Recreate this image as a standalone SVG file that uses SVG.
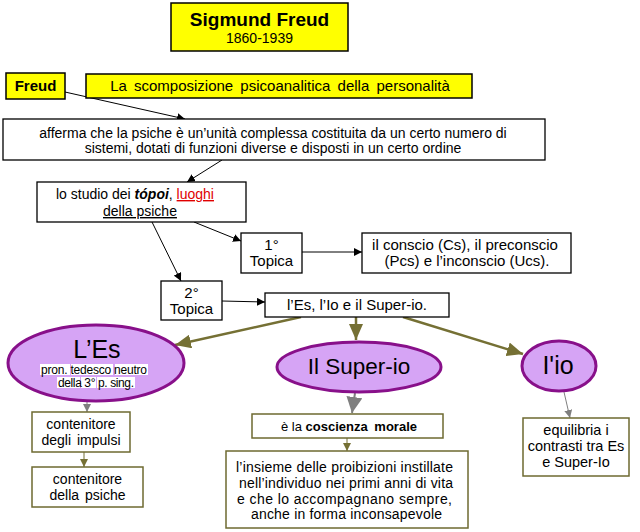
<svg xmlns="http://www.w3.org/2000/svg" width="640" height="532" viewBox="0 0 640 532">
<defs>
<style>
text{font-family:"Liberation Sans",Arial,sans-serif;fill:#000;}
.c{text-anchor:middle;}
.yb{fill:#FFFF00;stroke:#000;stroke-width:1.5;}
.wb{fill:#fff;stroke:#000;stroke-width:1.3;}
.ob{fill:#fff;stroke:#6E6A30;stroke-width:1.5;}
.el{fill:#D6A4F5;stroke:#88108A;stroke-width:3;}
.k{stroke:#000;stroke-width:1;fill:none;}
.o{stroke:#757034;stroke-width:2.5;fill:none;}
.os{stroke:#757034;stroke-width:1;fill:none;}
.g{stroke:#7F7F7F;stroke-width:1;fill:none;}
.gw{stroke:#7F7F7F;stroke-width:2;fill:none;}
.hl{fill:#fff;}
</style>
<marker id="ak" markerUnits="userSpaceOnUse" markerWidth="10" markerHeight="8" refX="8" refY="4" orient="auto"><path d="M0,0L8,4L0,8z" fill="#000"/></marker>
<marker id="ao" markerUnits="userSpaceOnUse" markerWidth="18" markerHeight="14" refX="16" refY="7" orient="auto"><path d="M0,0L16,7L0,14z" fill="#757034"/></marker>
<marker id="aos" markerUnits="userSpaceOnUse" markerWidth="10" markerHeight="8" refX="8" refY="4" orient="auto"><path d="M0,0L8,4L0,8z" fill="#757034"/></marker>
<marker id="ag" markerUnits="userSpaceOnUse" markerWidth="10" markerHeight="8" refX="8" refY="4" orient="auto"><path d="M0,0L8,4L0,8z" fill="#7F7F7F"/></marker>
<marker id="agl" markerUnits="userSpaceOnUse" markerWidth="18" markerHeight="16" refX="16" refY="8" orient="auto"><path d="M0,0L16,8L0,16z" fill="#7F7F7F"/></marker>
</defs>
<rect width="640" height="532" fill="#fff"/>

<g id="connectors">
<line class="k" x1="65" y1="92" x2="185" y2="119" marker-end="url(#ak)"/>
<line class="k" x1="222" y1="160" x2="187" y2="182" marker-end="url(#ak)"/>
<line class="k" x1="194" y1="222" x2="241" y2="241" marker-end="url(#ak)"/>
<line class="k" x1="152" y1="222" x2="181" y2="281" marker-end="url(#ak)"/>
<line class="k" x1="302" y1="252" x2="362" y2="252" marker-end="url(#ak)"/>
<line class="k" x1="222" y1="301" x2="265" y2="302" marker-end="url(#ak)"/>
<line class="o" x1="301" y1="317" x2="175" y2="345" marker-end="url(#ao)"/>
<line class="o" x1="356" y1="317" x2="356" y2="340" marker-end="url(#ao)"/>
<line class="o" x1="403" y1="317" x2="523" y2="354" marker-end="url(#ao)"/>
<line class="g" x1="87" y1="402" x2="87" y2="412" marker-end="url(#ag)"/>
<line class="os" x1="84" y1="452" x2="84" y2="467" marker-end="url(#aos)"/>
<line class="gw" x1="355" y1="393" x2="352" y2="413" marker-end="url(#agl)"/>
<line class="os" x1="347" y1="438" x2="347" y2="451" marker-end="url(#aos)"/>
<line class="g" x1="564" y1="392" x2="570" y2="418" marker-end="url(#ag)"/>
</g>

<g id="title">
<rect class="yb" x="171" y="3" width="177" height="48"/>
<text class="c" x="259.5" y="26" font-size="19" font-weight="bold">Sigmund Freud</text>
<text class="c" x="259.5" y="43" font-size="14">1860-1939</text>
</g>

<g id="freud">
<rect class="yb" x="6" y="73" width="59" height="26"/>
<text class="c" x="35.5" y="91" font-size="15" font-weight="bold">Freud</text>
</g>

<g id="scomposizione">
<rect class="yb" x="86" y="74" width="386" height="24"/>
<text class="c" x="280" y="91" font-size="15" word-spacing="3">La scomposizione psicoanalitica della personalità</text>
</g>

<g id="afferma">
<rect class="wb" x="3" y="119" width="542" height="41"/>
<text class="c" x="273" y="138" font-size="14">afferma che la psiche è un’unità complessa costituita da un certo numero di</text>
<text class="c" x="273" y="153" font-size="14">sistemi, dotati di funzioni diverse e disposti in un certo ordine</text>
</g>

<g id="topoi">
<rect class="wb" x="37" y="182" width="209" height="40"/>
<text x="56" y="199" font-size="14">lo studio dei <tspan font-weight="bold" font-style="italic">tópoi</tspan>, <tspan fill="#E00000" text-decoration="underline">luoghi </tspan></text>
<text x="103" y="216" font-size="14" fill="#E00000" text-decoration="underline">della psiche</text>
</g>

<g id="topica1">
<rect class="wb" x="241" y="233" width="61" height="40"/>
<text class="c" x="271.5" y="250" font-size="15">1°</text>
<text class="c" x="271.5" y="266" font-size="15">Topica</text>
</g>

<g id="conscio">
<rect class="wb" x="362" y="233" width="209" height="40"/>
<text class="c" x="465" y="250" font-size="15">il conscio (Cs), il preconscio</text>
<text class="c" x="467" y="266" font-size="15">(Pcs) e l’inconscio (Ucs).</text>
</g>

<g id="topica2">
<rect class="wb" x="161" y="281" width="61" height="39"/>
<text class="c" x="191.5" y="298" font-size="15">2°</text>
<text class="c" x="191.5" y="314" font-size="15">Topica</text>
</g>

<g id="esiosuper">
<rect class="wb" x="265" y="293" width="184" height="24"/>
<text class="c" x="357" y="310" font-size="15">l’Es, l’Io e il Super-io.</text>
</g>

<g id="les">
<ellipse class="el" cx="96" cy="363" rx="88" ry="38"/>
<text class="c" x="97" y="358" font-size="25">L’Es</text>
<rect class="hl" x="40" y="364" width="30" height="11"/>
<rect class="hl" x="71" y="364" width="42" height="11"/>
<rect class="hl" x="115" y="364" width="33" height="11"/>
<rect class="hl" x="57" y="377" width="23" height="11"/>
<rect class="hl" x="81" y="377" width="15" height="11"/>
<rect class="hl" x="97" y="377" width="38" height="11"/>
<text x="41" y="374" font-size="12" textLength="106" lengthAdjust="spacing">pron. tedesco neutro</text>
<text x="58" y="387" font-size="12" textLength="76" lengthAdjust="spacing">della 3° p. sing.</text>
</g>

<g id="superio">
<ellipse class="el" cx="359" cy="367" rx="82" ry="25"/>
<text class="c" x="359" y="374" font-size="22.5">Il Super-io</text>
</g>

<g id="io">
<ellipse class="el" cx="559" cy="366" rx="37" ry="25"/>
<text class="c" x="558" y="374" font-size="25">I'io</text>
</g>

<g id="impulsi">
<rect class="ob" x="32" y="412" width="98" height="40"/>
<text class="c" x="81" y="429" font-size="14">contenitore</text>
<text class="c" x="81" y="445" font-size="14" word-spacing="2">degli impulsi</text>
</g>

<g id="psiche">
<rect class="ob" x="32" y="467" width="111" height="40"/>
<text class="c" x="87.5" y="484" font-size="14">contenitore</text>
<text class="c" x="87.5" y="500" font-size="14" word-spacing="2">della psiche</text>
</g>

<g id="coscienza">
<rect class="ob" x="252" y="414" width="191" height="24"/>
<text class="c" x="349" y="431" font-size="13">è la <tspan font-weight="bold" word-spacing="3">coscienza morale</tspan></text>
</g>

<g id="insieme">
<rect class="ob" x="226" y="451" width="242" height="77"/>
<text x="236" y="472" font-size="14" textLength="217" lengthAdjust="spacing">l’insieme delle proibizioni instillate</text>
<text x="239" y="488" font-size="14" textLength="214" lengthAdjust="spacing">nell’individuo nei primi anni di vita</text>
<text x="237" y="504" font-size="14" textLength="215" lengthAdjust="spacing">e che  lo accompagnano sempre,</text>
<text x="251" y="519" font-size="14" textLength="191" lengthAdjust="spacing">anche in forma inconsapevole</text>
</g>

<g id="equilibria">
<rect class="ob" x="523" y="418" width="106" height="58"/>
<text class="c" x="576" y="435" font-size="14.5">equilibria i</text>
<text class="c" x="576" y="451" font-size="14.5">contrasti tra Es</text>
<text class="c" x="576" y="467" font-size="14.5">e Super-Io</text>
</g>
</svg>
